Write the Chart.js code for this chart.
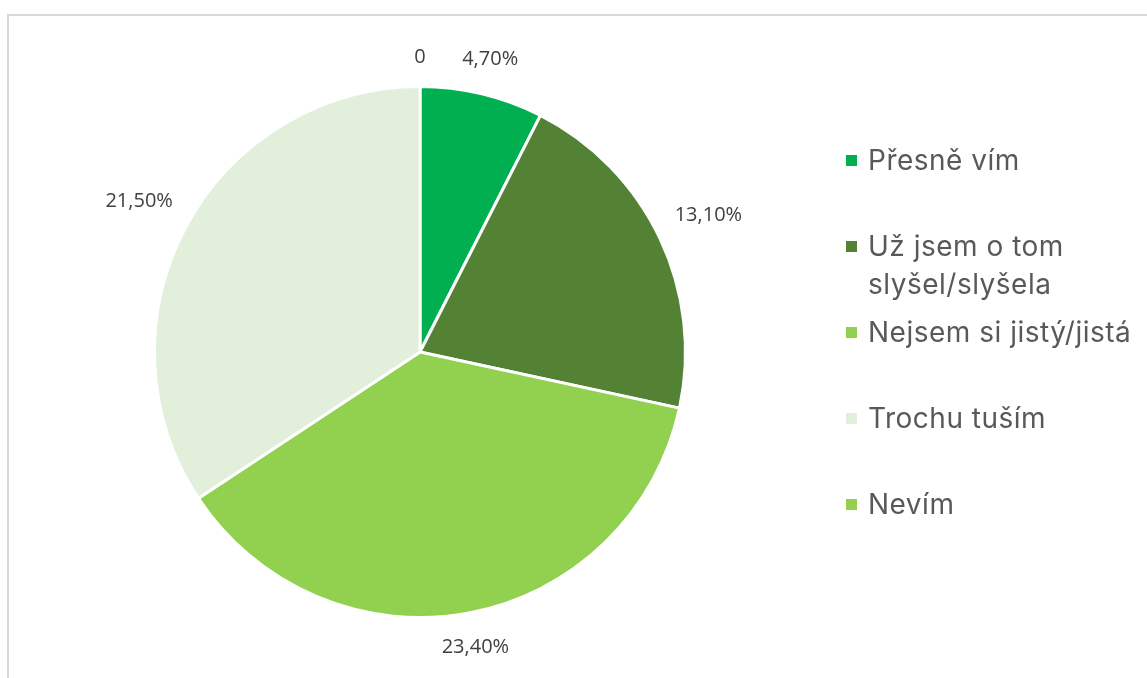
<!DOCTYPE html>
<html>
<head>
<meta charset="utf-8">
<script src="https://cdn.jsdelivr.net/npm/chart.js@4"></script>
<style>
    html, body { margin: 0; padding: 0; background: #fff; }
    #wrap { position: relative; width: 1147px; height: 678px; overflow: hidden; }
    #frame { position: absolute; left: 7px; top: 14px; right: -10px; bottom: -10px;
        border-top: 2px solid #d9d9d9; border-left: 2px solid #d9d9d9; }
    #chart { position: absolute; left: 0; top: 0; }
    #legend { position: absolute; left: 846px; top: 141px; font-family: Inter, "Noto Sans", sans-serif;
        font-size: 28px; letter-spacing: 0.5px; color: #595959; line-height: 38px; }
    #legend .item { position: relative; height: 86px; width: 300px; padding-left: 22px; box-sizing: border-box; white-space: nowrap; }
    #legend .dot { position: absolute; left: 0; top: 14px; width: 11px; height: 11px; }
</style>
</head>
<body>
<div id="wrap">
    <div id="frame"></div>
    <canvas id="chart" width="1147" height="678"></canvas>
    <div id="legend"></div>
</div>
<script>
// data
const labels = ['Přesně vím', 'Už jsem o tom slyšel/slyšela', 'Nejsem si jistý/jistá', 'Trochu tuším', 'Nevím'];
const legendLines = [['Přesně vím'], ['Už jsem o tom', 'slyšel/slyšela'], ['Nejsem si jistý/jistá'], ['Trochu tuším'], ['Nevím']];
const values = [4.7, 13.1, 23.4, 21.5, 0];
const valueLabels = ['4,70%', '13,10%', '23,40%', '21,50%', '0'];
const colors = ['#00B050', '#548235', '#92D050', '#E2EFDA', '#92D050'];

// labels outside the slices, like excel's best fit
const outsideLabels = {
    id: 'outsideLabels',
    afterDatasetsDraw(chart) {
        const ctx = chart.ctx;
        const meta = chart.getDatasetMeta(0);
        ctx.save();
        ctx.font = '20px "Open Sans", "Liberation Sans", sans-serif';
        ctx.fillStyle = '#404040';
        ctx.textAlign = 'center';
        ctx.textBaseline = 'middle';
        meta.data.forEach((arc, i) => {
            const mid = (arc.startAngle + arc.endAngle) / 2;
            const txt = valueLabels[i];
            const w = ctx.measureText(txt).width;
            const h = 20;
            const cx = Math.cos(mid), sy = Math.sin(mid);
            const d = arc.outerRadius + 19 + Math.abs(cx) * w / 2 + Math.abs(sy) * h / 2;
            ctx.fillText(txt, arc.x + cx * d, arc.y + sy * d);
        });
        ctx.restore();
    }
};

new Chart(document.getElementById('chart').getContext('2d'), {
    type: 'pie',
    data: {
        labels: labels,
        datasets: [{
            data: values,
            backgroundColor: colors,
            borderColor: '#ffffff',
            borderWidth: 3
        }]
    },
    options: {
        responsive: false,
        animation: false,
        layout: { padding: { left: 153, right: 460, top: 85, bottom: 59 } },
        plugins: {
            legend: { display: false },
            tooltip: { enabled: false }
        }
    },
    plugins: [outsideLabels]
});

// html legend
const legendEl = document.getElementById('legend');
legendLines.forEach((lines, i) => {
    const item = document.createElement('div');
    item.className = 'item';
    const dot = document.createElement('span');
    dot.className = 'dot';
    dot.style.background = colors[i];
    item.appendChild(dot);
    lines.forEach(line => {
        const t = document.createElement('div');
        t.textContent = line;
        item.appendChild(t);
    });
    legendEl.appendChild(item);
});
</script>
</body>
</html>
